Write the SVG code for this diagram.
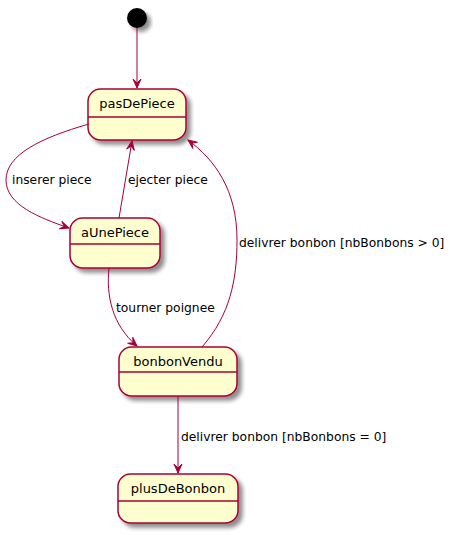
<svg xmlns="http://www.w3.org/2000/svg" width="455" height="535" viewBox="0 0 455 535">
<defs>
<filter id="sh" x="-20%" y="-20%" width="150%" height="160%">
<feGaussianBlur in="SourceAlpha" stdDeviation="2"/>
<feOffset dx="4" dy="4" result="b"/>
<feComponentTransfer><feFuncA type="linear" slope="0.45"/></feComponentTransfer>
<feMerge><feMergeNode/><feMergeNode in="SourceGraphic"/></feMerge>
</filter>
<marker id="ah" viewBox="-10 -5 11 10" refX="0" refY="0" markerWidth="11" markerHeight="10" orient="auto" markerUnits="userSpaceOnUse">
<path d="M0,0 L-9,-4 L-5,0 L-9,4 Z" fill="#A80036" stroke="#A80036" stroke-width="1"/>
</marker>
</defs>
<style>
.st rect{fill:#FEFECE;stroke:#A80036;stroke-width:1.5}
.st line{stroke:#A80036;stroke-width:1.5}
.t{font-family:"DejaVu Sans",sans-serif;font-size:13px;fill:#000;text-anchor:middle}
.l{font-family:"DejaVu Sans",sans-serif;font-size:12.3px;fill:#000}
.e{fill:none;stroke:#A80036;stroke-width:1;marker-end:url(#ah)}
</style>
<g id="start"><circle cx="137" cy="18" r="10" fill="#000" filter="url(#sh)"/></g>
<g id="pasDePiece" class="st">
<rect x="88" y="89" width="98" height="51" rx="12.5" filter="url(#sh)"/>
<line x1="88" y1="117" x2="186" y2="117"/>
<text class="t" x="137" y="108">pasDePiece</text>
</g>
<g id="aUnePiece" class="st">
<rect x="70" y="218" width="90" height="50" rx="12.5" filter="url(#sh)"/>
<line x1="70" y1="244" x2="160" y2="244"/>
<text class="t" x="115" y="237">aUnePiece</text>
</g>
<g id="bonbonVendu" class="st">
<rect x="119" y="347" width="118" height="49" rx="12.5" filter="url(#sh)"/>
<line x1="119" y1="372" x2="237" y2="372"/>
<text class="t" x="178" y="366">bonbonVendu</text>
</g>
<g id="plusDeBonbon" class="st">
<rect x="118" y="474" width="120" height="49" rx="12.5" filter="url(#sh)"/>
<line x1="118" y1="501" x2="238" y2="501"/>
<text class="t" x="178" y="493">plusDeBonbon</text>
</g>
<g id="connectors">
<path class="e" d="M137,28 L137,88"/>
<path class="e" d="M89,124 C40,138 6,155 6,180 C6,205 40,218 69,228"/>
<path class="e" d="M119,218 L132,141"/>
<path class="e" d="M109,268 C106,295 112,325 137,346"/>
<path class="e" d="M202,347 C230,315 237,280 237,240 C237,190 215,160 188,140"/>
<path class="e" d="M178,396 L178,473"/>
<text class="l" x="12" y="184">inserer piece</text>
<text class="l" x="128" y="184">ejecter piece</text>
<text class="l" x="116" y="312">tourner poignee</text>
<text class="l" x="239" y="247">delivrer bonbon [nbBonbons &gt; 0]</text>
<text class="l" x="181" y="441">delivrer bonbon [nbBonbons = 0]</text>
</g>
</svg>
